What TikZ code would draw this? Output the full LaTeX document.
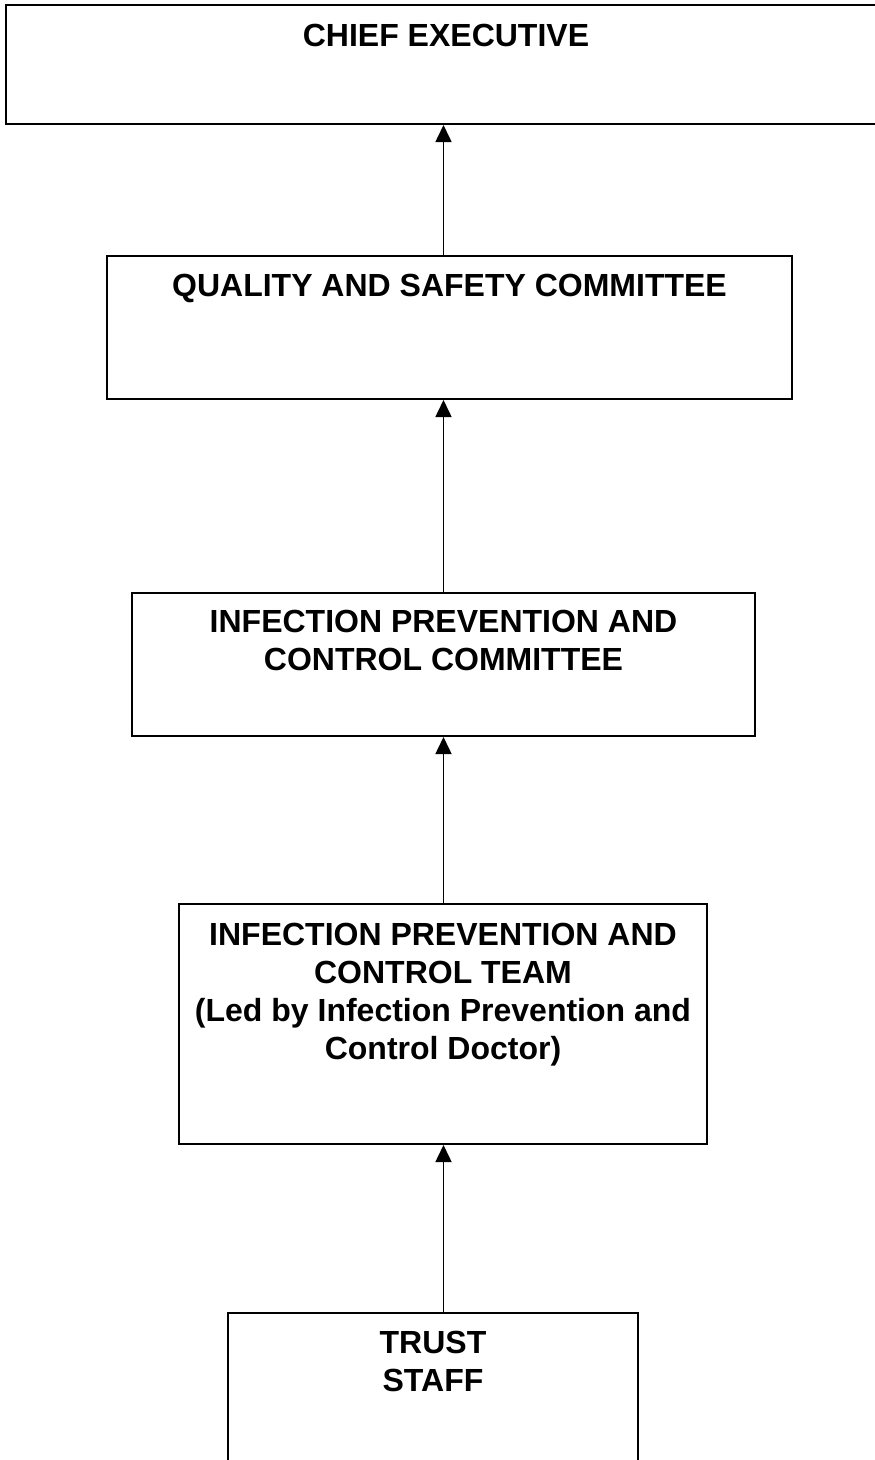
\documentclass[tikz,border=0pt]{standalone}
\usepackage{fontspec}
\setmainfont{Liberation Sans}
\usetikzlibrary{positioning,arrows.meta}
\begin{document}
\begin{tikzpicture}[x=1pt,y=1pt,
  box/.style={draw, line width=2pt, inner sep=0pt, anchor=north west},
  boxtext/.style={inner sep=0pt, align=center, font=\bfseries\fontsize{32}{38}\selectfont},
  flow/.style={line width=1.6pt, -{Triangle[width=16pt,length=17pt]}}]
\useasboundingbox (0,0) rectangle (875,-1460);
\clip (0,0) rectangle (875,-1460);
% boxes, top to bottom
\node[box, minimum width=880pt, minimum height=119pt] (ce) at (5,-4){};
\node[boxtext, below=20pt of ce.north] (cetext) {CHIEF EXECUTIVE};
\node[box, minimum width=685pt, minimum height=143pt] (qsc) at (106,-255){};
\node[boxtext, below=19pt of qsc.north] (qsctext) {QUALITY AND SAFETY COMMITTEE};
\node[box, minimum width=623pt, minimum height=143pt] (ipcc) at (131,-592){};
\node[boxtext, below=18pt of ipcc.north] (ipcctext) {INFECTION PREVENTION AND\\CONTROL COMMITTEE};
\node[box, minimum width=528pt, minimum height=240pt] (ipct) at (178,-903){};
\node[boxtext, below=20pt of ipct.north] (ipcttext) {INFECTION PREVENTION AND\\CONTROL TEAM\\(Led by Infection Prevention and\\Control Doctor)};
\node[box, minimum width=410pt, minimum height=200pt] (ts) at (227,-1312){};
\node[boxtext, below=19pt of ts.north] (tstext) {TRUST\\STAFF};
% reporting lines
\draw[flow] (ts.north -| ipcc.north) -- (ipct.south -| ipcc.north);
\draw[flow] (ipct.north -| ipcc.north) -- (ipcc.south);
\draw[flow] (ipcc.north) -- (qsc.south -| ipcc.north);
\draw[flow] (qsc.north -| ipcc.north) -- (ce.south -| ipcc.north);
\end{tikzpicture}
\end{document}
